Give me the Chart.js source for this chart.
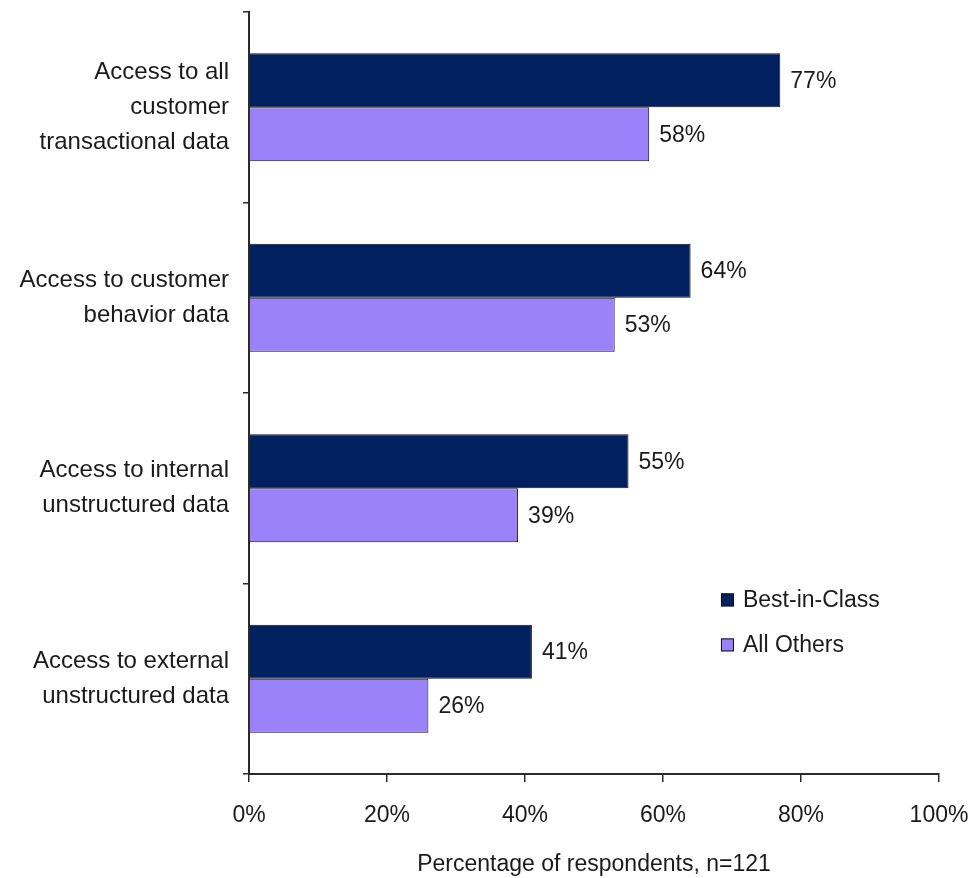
<!DOCTYPE html>
<html>
<head>
<meta charset="utf-8">
<script src="https://cdn.jsdelivr.net/npm/chart.js@4/dist/chart.umd.min.js"></script>
<style>
  html, body { margin: 0; padding: 0; background: #ffffff; }
  #wrap { width: 976px; height: 878px; position: relative; }
</style>
</head>
<body>
<div id="wrap"><canvas id="c" width="976" height="878"></canvas></div>
<script>
const categories = [
  ["Access to all", "customer", "transactional data"],
  ["Access to customer", "behavior data"],
  ["Access to internal", "unstructured data"],
  ["Access to external", "unstructured data"]
];
const seriesNames = ["Best-in-Class", "All Others"];
const bestInClass = [77, 64, 55, 41];
const allOthers = [58, 53, 39, 26];
const xTicks = [0, 20, 40, 60, 80, 100];
const xTitle = "Percentage of respondents, n=121";

const FONT = "'Liberation Sans', Arial, sans-serif";
const TEXT = "#1a1a1a";
const AXIS = "#2a2a2a";
const colors = ["#002060", "#9b82fa"];

const valueLabels = {
  id: "valueLabels",
  afterDatasetsDraw(chart) {
    const ctx = chart.ctx;
    ctx.save();
    ctx.font = "23px " + FONT;
    ctx.fillStyle = TEXT;
    ctx.textAlign = "left";
    ctx.textBaseline = "middle";
    chart.data.datasets.forEach((ds, di) => {
      const meta = chart.getDatasetMeta(di);
      meta.data.forEach((bar, i) => {
        ctx.fillText(ds.data[i] + "%", bar.x + 10, bar.y + 1);
      });
    });
    ctx.restore();
  }
};

const sideLegend = {
  id: "sideLegend",
  afterDraw(chart) {
    const ctx = chart.ctx;
    const a = chart.chartArea;
    const x0 = a.left + (a.right - a.left) * 0.684;
    const y0 = a.top + (a.bottom - a.top) * 0.763;
    ctx.save();
    ctx.font = "23px " + FONT;
    ctx.textAlign = "left";
    ctx.textBaseline = "middle";
    chart.data.datasets.forEach((ds, i) => {
      const y = y0 + i * 45;
      ctx.fillStyle = ds.backgroundColor;
      ctx.fillRect(x0, y, 13, 13);
      ctx.strokeStyle = "#111";
      ctx.lineWidth = 1;
      ctx.strokeRect(x0 + 0.5, y + 0.5, 12, 12);
      ctx.fillStyle = TEXT;
      ctx.fillText(ds.label, x0 + 22, y + 7);
    });
    ctx.restore();
  }
};

new Chart(document.getElementById("c"), {
  type: "bar",
  data: {
    labels: categories,
    datasets: [
      { label: seriesNames[0], data: bestInClass, backgroundColor: colors[0], borderColor: "#111", borderWidth: 1 },
      { label: seriesNames[1], data: allOthers, backgroundColor: colors[1], borderColor: "#111", borderWidth: 1 }
    ]
  },
  options: {
    indexAxis: "y",
    responsive: false,
    animation: false,
    devicePixelRatio: 1,
    layout: { padding: { top: 12, right: 37, left: 0, bottom: 0 } },
    datasets: { bar: { categoryPercentage: 0.567, barPercentage: 1.0 } },
    plugins: { legend: { display: false }, tooltip: { enabled: false } },
    scales: {
      y: {
        grid: { drawOnChartArea: false, drawTicks: true, tickLength: 6, color: AXIS, lineWidth: 1.5, offset: true },
        border: { display: true, color: AXIS, width: 2 },
        ticks: { color: TEXT, font: { family: FONT, size: 24, lineHeight: 1.45 }, padding: 14 },
        afterFit(scale) { scale.width = 249; scale.paddingTop = 0; scale.paddingBottom = 0; }
      },
      x: {
        min: 0, max: 100,
        afterBuildTicks(scale) { scale.ticks = xTicks.map(v => ({ value: v })); },
        grid: { drawOnChartArea: false, drawTicks: true, tickLength: 8, color: AXIS, lineWidth: 1.5 },
        border: { display: true, color: AXIS, width: 2 },
        ticks: { color: TEXT, font: { family: FONT, size: 23 }, padding: 20, callback: v => v + "%" },
        title: { display: true, text: xTitle, color: TEXT, font: { family: FONT, size: 23 }, padding: { top: 12, bottom: 0 } },
        afterFit(scale) { scale.height = 104; scale.paddingLeft = 0; scale.paddingRight = 0; }
      }
    }
  },
  plugins: [valueLabels, sideLegend]
});
</script>
</body>
</html>
